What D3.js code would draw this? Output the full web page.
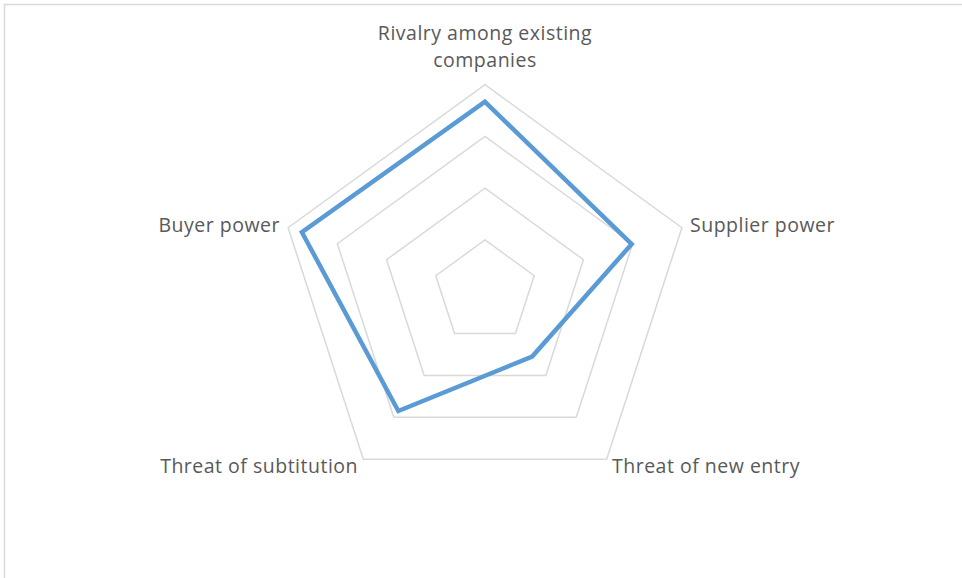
<!DOCTYPE html>
<html>
<head>
<meta charset="utf-8">
<script src="https://cdn.jsdelivr.net/npm/d3@7"></script>
<style>
  body { margin: 0; background: #fff; }
  svg { display: block; }
</style>
</head>
<body>
<script>
// chart data
const categories = [
  ["Rivalry among existing", "companies"],
  ["Supplier power"],
  ["Threat of new entry"],
  ["Threat of subtitution"],
  ["Buyer power"]
];
const values = [3.67, 2.98, 1.55, 2.85, 3.72];
const gridLevels = [1, 2, 3, 4];

const width = 962, height = 578;
const cx = 485, cy = 291.7;

const svg = d3.select("body").append("svg")
  .attr("width", width)
  .attr("height", height);

// chart border (runs off the right and bottom edges like the original)
svg.append("rect")
  .attr("x", 4.5).attr("y", 4.5)
  .attr("width", width + 20).attr("height", height + 20)
  .attr("fill", "none")
  .attr("stroke", "#d9d9d9")
  .attr("stroke-width", 1.5);

const r = d3.scaleLinear().domain([0, 4]).range([0, 207]);
const angle = d3.scaleLinear().domain([0, categories.length]).range([0, 2 * Math.PI]);

const radial = d3.lineRadial()
  .angle((d, i) => angle(i))
  .radius(d => r(d))
  .curve(d3.curveLinearClosed);

const g = svg.append("g").attr("transform", `translate(${cx},${cy})`);

// grid pentagons
g.selectAll("path.grid")
  .data(gridLevels)
  .enter()
  .append("path")
  .attr("class", "grid")
  .attr("d", lvl => radial(categories.map(() => lvl)))
  .attr("fill", "none")
  .attr("stroke", "#d9d9d9")
  .attr("stroke-width", 1.5);

// series
g.append("path")
  .attr("d", radial(values))
  .attr("fill", "none")
  .attr("stroke", "#5b9bd5")
  .attr("stroke-width", 4.5)
  .attr("stroke-linejoin", "miter");

// category labels
const labelPos = [
  { x: 0, y: -252, anchor: "middle" },
  { x: 205, y: -60, anchor: "start" },
  { x: 127, y: 181, anchor: "start" },
  { x: -127, y: 181, anchor: "end" },
  { x: -205, y: -60, anchor: "end" }
];

const labels = g.selectAll("text.cat")
  .data(categories)
  .enter()
  .append("text")
  .attr("class", "cat")
  .attr("text-anchor", (d, i) => labelPos[i].anchor)
  .attr("font-family", "'Open Sans', sans-serif")
  .attr("font-size", 19.5)
  .attr("letter-spacing", 0.5)
  .attr("fill", "#595959");

labels.selectAll("tspan")
  .data((d, i) => d.map(line => ({ line, i })))
  .enter()
  .append("tspan")
  .attr("x", d => labelPos[d.i].x)
  .attr("y", (d, j) => labelPos[d.i].y + j * 27)
  .text(d => d.line);
</script>
</body>
</html>
